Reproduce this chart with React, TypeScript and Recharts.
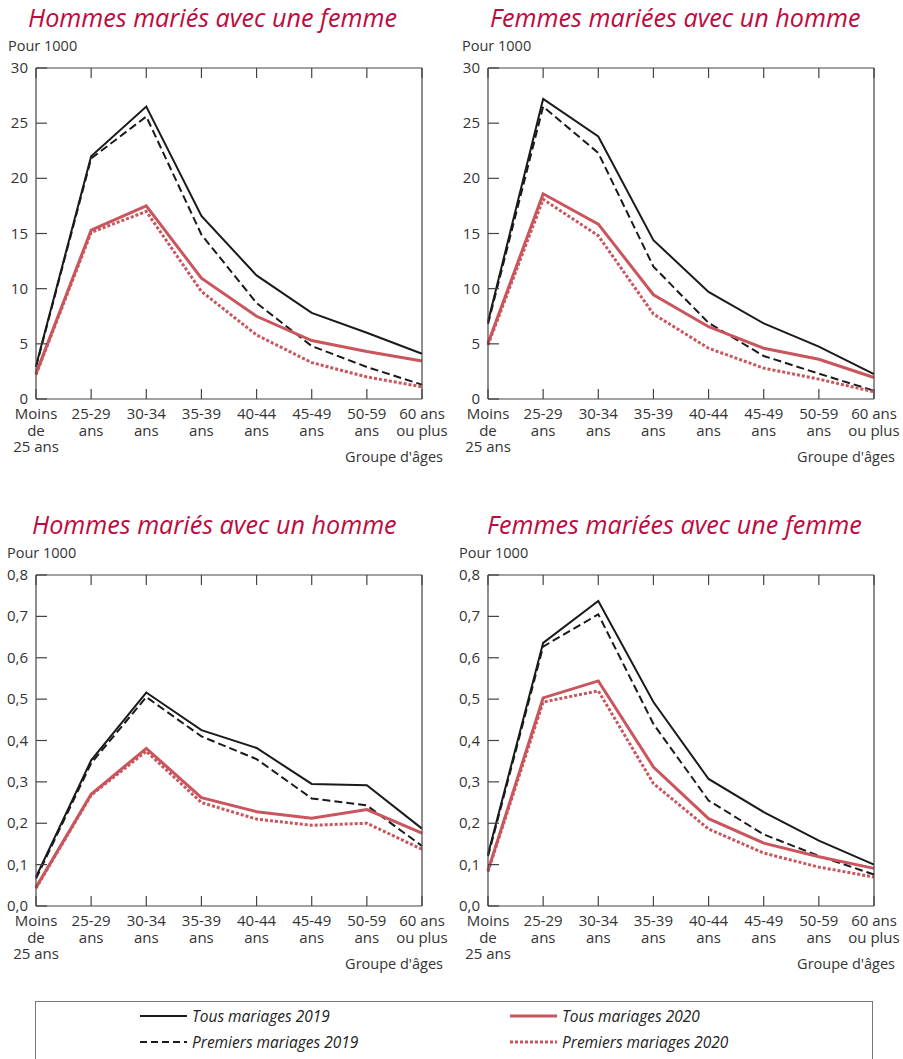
import React from 'react';
import { LineChart, Line, XAxis, YAxis } from 'recharts';

// age groups (x categories), each label split in lines
const ageGroups = ['Moins de 25 ans', '25-29 ans', '30-34 ans', '35-39 ans', '40-44 ans', '45-49 ans', '50-59 ans', '60 ans ou plus'];
const ageLabelLines = [
  ['Moins', 'de', '25 ans'],
  ['25-29', 'ans'],
  ['30-34', 'ans'],
  ['35-39', 'ans'],
  ['40-44', 'ans'],
  ['45-49', 'ans'],
  ['50-59', 'ans'],
  ['60 ans', 'ou plus'],
];

const ticksLarge = [0, 5, 10, 15, 20, 25, 30];
const ticksSmall = [0, 0.1, 0.2, 0.3, 0.4, 0.5, 0.6, 0.7, 0.8];
// right-side ticks of the last panel are on a 0-30 grid in the source
const ticksRightOdd = [5, 10, 15, 20, 25];

// Hommes mariés avec une femme
const hfTous2019 = [3.0, 22.0, 26.5, 16.6, 11.2, 7.8, 6.0, 4.1];
const hfPremiers2019 = [2.9, 21.8, 25.6, 14.9, 8.7, 4.8, 2.9, 1.3];
const hfTous2020 = [2.3, 15.3, 17.5, 10.95, 7.5, 5.3, 4.3, 3.45];
const hfPremiers2020 = [2.2, 15.1, 17.0, 9.75, 5.8, 3.3, 2.0, 1.1];

// Femmes mariées avec un homme
const fhTous2019 = [7.0, 27.2, 23.8, 14.4, 9.7, 6.85, 4.75, 2.25];
const fhPremiers2019 = [6.8, 26.5, 22.3, 12.0, 6.9, 3.9, 2.3, 0.75];
const fhTous2020 = [5.05, 18.6, 15.85, 9.45, 6.55, 4.6, 3.6, 1.95];
const fhPremiers2020 = [4.9, 18.1, 14.8, 7.7, 4.6, 2.8, 1.8, 0.65];

// Hommes mariés avec un homme
const hhTous2019 = [0.07, 0.352, 0.516, 0.425, 0.382, 0.295, 0.292, 0.187];
const hhPremiers2019 = [0.066, 0.345, 0.505, 0.41, 0.355, 0.26, 0.243, 0.145];
const hhTous2020 = [0.045, 0.27, 0.381, 0.262, 0.228, 0.212, 0.233, 0.176];
const hhPremiers2020 = [0.043, 0.268, 0.374, 0.25, 0.21, 0.195, 0.2, 0.137];

// Femmes mariées avec une femme
const ffTous2019 = [0.125, 0.636, 0.737, 0.493, 0.307, 0.227, 0.158, 0.1];
const ffPremiers2019 = [0.12, 0.627, 0.705, 0.44, 0.255, 0.173, 0.121, 0.076];
const ffTous2020 = [0.086, 0.503, 0.544, 0.336, 0.211, 0.152, 0.119, 0.091];
const ffPremiers2020 = [0.083, 0.493, 0.52, 0.296, 0.186, 0.128, 0.094, 0.07];

const BLACK = '#1a1a1a';
const RED = '#c9555d';
const AXIS = '#444444';
const TEXT = '#333333';
const TITLE = '#bd0b40';
const FONT = '"Open Sans", "Noto Sans", sans-serif';

const buildRows = (t19: number[], p19: number[], t20: number[], p20: number[]) =>
  ageGroups.map((age, i) => ({ age, tous2019: t19[i], premiers2019: p19[i], tous2020: t20[i], premiers2020: p20[i] }));

const fmtLarge = (v: number) => String(v);
const fmtSmall = (v: number) => v.toFixed(1).replace('.', ',');

const LeftTick = (props: any) => {
  const { x, y, payload, fmt } = props;
  return (
    <g>
      <line x1={x} x2={x + 11} y1={y} y2={y} stroke={AXIS} strokeWidth={1.2} />
      <text x={x - 8} y={y} dy={5} textAnchor="end" fontSize={15} fill={TEXT} fontFamily={FONT}>
        {fmt(payload.value)}
      </text>
    </g>
  );
};

const RightTick = (props: any) => {
  const { x, y } = props;
  return <line x1={x - 11} x2={x} y1={y} y2={y} stroke={AXIS} strokeWidth={1.2} />;
};

const TopTick = (props: any) => {
  const { x, y } = props;
  return <line x1={x} x2={x} y1={y} y2={y + 10} stroke={AXIS} strokeWidth={1.2} />;
};

const BottomTick = (props: any) => {
  const { x, y, index } = props;
  const lines = ageLabelLines[index] || [];
  return (
    <g>
      <line x1={x} x2={x} y1={y} y2={y - 10} stroke={AXIS} strokeWidth={1.2} />
      <text textAnchor="middle" fontSize={15} fill={TEXT} fontFamily={FONT}>
        {lines.map((l, i) => (
          <tspan key={i} x={x} y={y + 20 + i * 16.5}>
            {l}
          </tspan>
        ))}
      </text>
    </g>
  );
};

interface PanelProps {
  left: number;
  top: number;
  title: string;
  titleLeft: number;
  unitLeft: number;
  data: any[];
  domain: [number, number];
  ticks: number[];
  fmt: (v: number) => string;
  rightDomain: [number, number];
  rightTicks: number[];
}

const Panel: React.FC<PanelProps> = ({ left, top, title, titleLeft, unitLeft, data, domain, ticks, fmt, rightDomain, rightTicks }) => (
  <div style={{ position: 'absolute', left, top, width: 450, height: 470 }}>
    <div
      style={{
        position: 'absolute',
        left: titleLeft,
        top: 0,
        fontFamily: FONT,
        fontStyle: 'italic',
        fontSize: 25.2,
        lineHeight: '34px',
        color: TITLE,
        whiteSpace: 'nowrap',
      }}
    >
      {title}
    </div>
    <div style={{ position: 'absolute', left: unitLeft, top: 36, fontFamily: FONT, fontSize: 14.5, lineHeight: '20px', color: TEXT, whiteSpace: 'nowrap' }}>
      Pour 1000
    </div>
    <div style={{ position: 'absolute', right: 450 - 443, top: 447, fontFamily: FONT, fontSize: 14.5, lineHeight: '20px', color: TEXT, whiteSpace: 'nowrap' }}>
      Groupe d'âges
    </div>
    <div style={{ position: 'absolute', left: 0, top: 0 }}>
      <LineChart width={450} height={470} data={data} margin={{ top: 67, right: 27, bottom: 11, left: 6 }}>
        <XAxis
          dataKey="age"
          interval={0}
          height={60}
          tickSize={0}
          tickMargin={0}
          axisLine={{ stroke: AXIS, strokeWidth: 1.2 }}
          tickLine={false}
          tick={(p: any) => <BottomTick {...p} />}
        />
        <XAxis
          xAxisId="top"
          dataKey="age"
          orientation="top"
          interval={0}
          height={1}
          tickSize={0}
          tickMargin={0}
          axisLine={{ stroke: AXIS, strokeWidth: 1.2 }}
          tickLine={false}
          tick={(p: any) => <TopTick {...p} />}
        />
        <YAxis
          domain={domain}
          ticks={ticks}
          width={30}
          interval={0}
          tickSize={0}
          tickMargin={0}
          axisLine={{ stroke: AXIS, strokeWidth: 1.2 }}
          tickLine={false}
          tick={(p: any) => <LeftTick {...p} fmt={fmt} />}
        />
        <YAxis
          yAxisId="right"
          orientation="right"
          domain={rightDomain}
          ticks={rightTicks}
          width={1}
          interval={0}
          tickSize={0}
          tickMargin={0}
          axisLine={{ stroke: AXIS, strokeWidth: 1.2 }}
          tickLine={false}
          tick={(p: any) => <RightTick {...p} />}
        />
        <Line dataKey="tous2019" stroke={BLACK} strokeWidth={2} dot={false} isAnimationActive={false} />
        <Line dataKey="premiers2019" stroke={BLACK} strokeWidth={2} strokeDasharray="8 4" dot={false} isAnimationActive={false} />
        <Line dataKey="tous2020" stroke={RED} strokeWidth={3} dot={false} isAnimationActive={false} />
        <Line dataKey="premiers2020" stroke={RED} strokeWidth={3} strokeDasharray="3 2" dot={false} isAnimationActive={false} />
      </LineChart>
    </div>
  </div>
);

const LegendItem = ({ dash, color, width, label }: { dash?: string; color: string; width: number; label: string }) => (
  <div style={{ display: 'flex', alignItems: 'center', height: 26 }}>
    <svg width={48} height={10} style={{ marginRight: 4 }}>
      <line x1={0} x2={47} y1={5} y2={5} stroke={color} strokeWidth={width} strokeDasharray={dash} />
    </svg>
    <span style={{ fontFamily: FONT, fontStyle: 'italic', fontSize: 15.5, color: '#222', whiteSpace: 'nowrap' }}>{label}</span>
  </div>
);

export default function App() {
  const hf = buildRows(hfTous2019, hfPremiers2019, hfTous2020, hfPremiers2020);
  const fh = buildRows(fhTous2019, fhPremiers2019, fhTous2020, fhPremiers2020);
  const hh = buildRows(hhTous2019, hhPremiers2019, hhTous2020, hhPremiers2020);
  const ff = buildRows(ffTous2019, ffPremiers2019, ffTous2020, ffPremiers2020);

  return (
    <div style={{ position: 'absolute', left: 0, top: 0, width: 903, height: 1059, background: '#fff', overflow: 'hidden' }}>
      <Panel left={0} top={0} title="Hommes mariés avec une femme" titleLeft={28} unitLeft={8} data={hf}
        domain={[0, 30]} ticks={ticksLarge} fmt={fmtLarge} rightDomain={[0, 30]} rightTicks={ticksLarge} />
      <Panel left={452} top={0} title="Femmes mariées avec un homme" titleLeft={38} unitLeft={10} data={fh}
        domain={[0, 30]} ticks={ticksLarge} fmt={fmtLarge} rightDomain={[0, 30]} rightTicks={ticksLarge} />
      <Panel left={0} top={507} title="Hommes mariés avec un homme" titleLeft={32} unitLeft={7} data={hh}
        domain={[0, 0.8]} ticks={ticksSmall} fmt={fmtSmall} rightDomain={[0, 0.8]} rightTicks={ticksSmall} />
      <Panel left={452} top={507} title="Femmes mariées avec une femme" titleLeft={35} unitLeft={7} data={ff}
        domain={[0, 0.8]} ticks={ticksSmall} fmt={fmtSmall} rightDomain={[0, 30]} rightTicks={ticksRightOdd} />

      {/* Legend */}
      <div style={{ position: 'absolute', left: 35, top: 1001, width: 838, height: 80, border: '1px solid #777', boxSizing: 'border-box' }}>
        <div style={{ position: 'absolute', left: 104, top: 1 }}>
          <LegendItem color={BLACK} width={2} label="Tous mariages 2019" />
          <LegendItem color={BLACK} width={2} dash="7 4" label="Premiers mariages 2019" />
        </div>
        <div style={{ position: 'absolute', left: 474, top: 1 }}>
          <LegendItem color={RED} width={3} label="Tous mariages 2020" />
          <LegendItem color={RED} width={3} dash="3 2" label="Premiers mariages 2020" />
        </div>
      </div>
    </div>
  );
}
